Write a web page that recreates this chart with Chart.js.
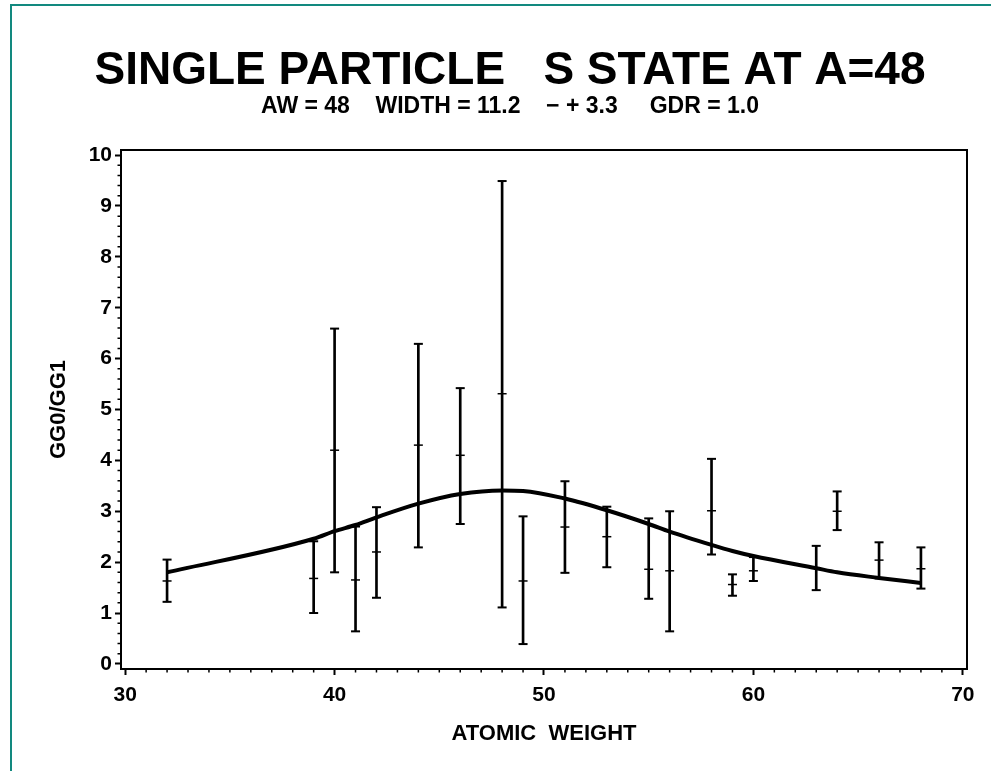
<!DOCTYPE html>
<html>
<head>
<meta charset="utf-8">
<script src="https://cdn.jsdelivr.net/npm/chart.js@4.4.1/dist/chart.umd.min.js"></script>
<style>
html,body{margin:0;padding:0;background:#fff;}
#wrap{position:relative;width:991px;height:771px;}
</style>
</head>
<body>
<div id="wrap"><canvas id="c" width="991" height="771"></canvas></div>
<script>
// ---- data ----
const atomicWeights = [32, 39, 40, 41, 42, 44, 46, 48, 49, 51, 53, 55, 56, 58, 59, 60, 63, 64, 66, 68];
const ratioMid  = [1.63, 1.68, 4.20, 1.65, 2.20, 4.30, 4.10, 5.31, 1.63, 2.69, 2.50, 1.86, 1.83, 3.01, 1.56, 1.83, 1.88, 3.00, 2.04, 1.87];
const ratioLow  = [1.22, 1.00, 1.80, 0.64, 1.30, 2.29, 2.75, 1.11, 0.39, 1.79, 1.90, 1.28, 0.64, 2.15, 1.34, 1.63, 1.45, 2.63, 1.68, 1.48];
const ratioHigh = [2.05, 2.41, 6.59, 2.70, 3.08, 6.29, 5.42, 9.49, 2.90, 3.59, 3.09, 2.86, 3.00, 4.03, 1.76, 2.10, 2.32, 3.39, 2.39, 2.29];
const fitCurve  = [1.80, 2.46, 2.61, 2.73, 2.88, 3.15, 3.34, 3.41, 3.40, 3.25, 3.02, 2.75, 2.60, 2.34, 2.22, 2.12, 1.88, 1.80, 1.69, 1.59];
const xTickValues = [30, 40, 50, 60, 70];
const yTickValues = [0, 1, 2, 3, 4, 5, 6, 7, 8, 9, 10];
const xMinorStep = 1;
const yMinorStep = 0.2;
const titleText = 'SINGLE PARTICLE   S STATE AT A=48';
const subtitleText = 'AW = 48    WIDTH = 11.2    \u2212 + 3.3     GDR = 1.0';
const xAxisTitle = 'ATOMIC  WEIGHT';
const yAxisTitle = 'GG0/GG1';

const FONT = "'Liberation Sans', Arial, Helvetica, sans-serif";
Chart.defaults.font.family = FONT;
Chart.defaults.color = '#000';

const pageBorder = {
  id: 'pageBorder',
  beforeDraw(chart) {
    const ctx = chart.ctx;
    ctx.save();
    ctx.fillStyle = '#fff';
    ctx.fillRect(0, 0, chart.width, chart.height);
    ctx.fillStyle = '#12897f';
    ctx.fillRect(10, 4, chart.width - 10, 2);
    ctx.fillRect(10, 4, 2, chart.height - 4);
    ctx.restore();
  }
};

const frameAndMinor = {
  id: 'frameAndMinor',
  afterDraw(chart) {
    const ctx = chart.ctx;
    const a = chart.chartArea;
    const xs = chart.scales.x, ys = chart.scales.y;
    ctx.save();
    ctx.strokeStyle = '#000';
    ctx.lineWidth = 2;
    ctx.strokeRect(a.left, a.top, a.right - a.left, a.bottom - a.top);
    ctx.lineWidth = 1.5;
    ctx.beginPath();
    for (let v = xTickValues[0]; v <= xTickValues[xTickValues.length - 1] + 1e-9; v += xMinorStep) {
      if (Math.abs(v % 10) < 1e-9) continue;
      const px = xs.getPixelForValue(v);
      ctx.moveTo(px, a.bottom);
      ctx.lineTo(px, a.bottom + 3.5);
    }
    for (let k = 0; k <= 50; k++) {
      const v = k * yMinorStep;
      if (k % 5 === 0) continue;
      const py = ys.getPixelForValue(v);
      ctx.moveTo(a.left, py);
      ctx.lineTo(a.left - 3.5, py);
    }
    ctx.stroke();
    ctx.restore();
  }
};

const pts = (arr) => atomicWeights.map((x, i) => ({x: x, y: arr[i]}));

new Chart(document.getElementById('c'), {
  type: 'scatter',
  data: {
    datasets: [
      {
        type: 'line',
        label: 'fit',
        data: pts(fitCurve),
        borderColor: '#000',
        borderWidth: 4,
        pointRadius: 0,
        tension: 0.15,
        cubicInterpolationMode: 'monotone',
        fill: false,
        order: 0
      },
      {
        type: 'bar',
        label: 'range',
        data: atomicWeights.map((x, i) => ({x: x, y: [ratioLow[i], ratioHigh[i]]})),
        backgroundColor: '#000',
        borderWidth: 0,
        barThickness: 2,
        grouped: false,
        order: 1
      },
      {
        label: 'low',
        data: pts(ratioLow),
        pointStyle: 'line',
        pointRadius: 4.5,
        pointBorderWidth: 2,
        borderColor: '#000',
        showLine: false,
        order: 2
      },
      {
        label: 'high',
        data: pts(ratioHigh),
        pointStyle: 'line',
        pointRadius: 4.5,
        pointBorderWidth: 2,
        borderColor: '#000',
        showLine: false,
        order: 2
      },
      {
        label: 'mid',
        data: pts(ratioMid),
        pointStyle: 'line',
        pointRadius: 4.5,
        pointBorderWidth: 1.5,
        borderColor: '#000',
        showLine: false,
        order: 2
      }
    ]
  },
  options: {
    responsive: false,
    animation: false,
    devicePixelRatio: 1,
    layout: {padding: {left: 29, right: 0, top: 0, bottom: 0}},
    plugins: {
      legend: {display: false},
      tooltip: {enabled: false},
      title: {
        display: true,
        text: titleText,
        color: '#000',
        font: {family: FONT, size: 46, weight: 'bold', lineHeight: 1.0},
        padding: {top: 48, bottom: 0}
      },
      subtitle: {
        display: true,
        text: subtitleText,
        color: '#000',
        font: {family: FONT, size: 23, weight: 'bold', lineHeight: 1.0},
        padding: {top: 1, bottom: 32}
      }
    },
    scales: {
      x: {
        type: 'linear',
        min: 29.8,
        max: 70.2,
        offset: false,
        afterBuildTicks: (s) => { s.ticks = xTickValues.map(v => ({value: v})); },
        afterFit: (s) => { s.height = 102; },
        ticks: {
          font: {family: FONT, size: 21, weight: 'bold'},
          color: '#000',
          padding: 8,
          autoSkip: false,
          maxRotation: 0
        },
        grid: {drawOnChartArea: false, drawTicks: true, tickLength: 6, tickWidth: 2, tickColor: '#000', offset: false},
        border: {display: false},
        title: {
          display: true,
          text: xAxisTitle,
          color: '#000',
          font: {family: FONT, size: 22, weight: 'bold'},
          padding: {top: 0, bottom: 24}
        }
      },
      y: {
        type: 'linear',
        min: -0.1,
        max: 10.1,
        afterBuildTicks: (s) => { s.ticks = yTickValues.map(v => ({value: v})); },
        afterFit: (s) => { s.width = 92; },
        ticks: {
          font: {family: FONT, size: 21, weight: 'bold'},
          color: '#000',
          padding: 3,
          autoSkip: false
        },
        grid: {drawOnChartArea: false, drawTicks: true, tickLength: 6, tickWidth: 2, tickColor: '#000'},
        border: {display: false},
        title: {
          display: true,
          text: yAxisTitle,
          color: '#000',
          font: {family: FONT, size: 22, weight: 'bold'},
          padding: {top: 17, bottom: 0}
        }
      },
      yRightSpace: {
        type: 'linear',
        position: 'right',
        min: 0,
        max: 1,
        display: true,
        afterFit: (s) => { s.width = 24; },
        ticks: {display: false},
        grid: {display: false},
        border: {display: false},
        title: {display: false}
      }
    }
  },
  plugins: [pageBorder, frameAndMinor]
});
</script>
</body>
</html>
